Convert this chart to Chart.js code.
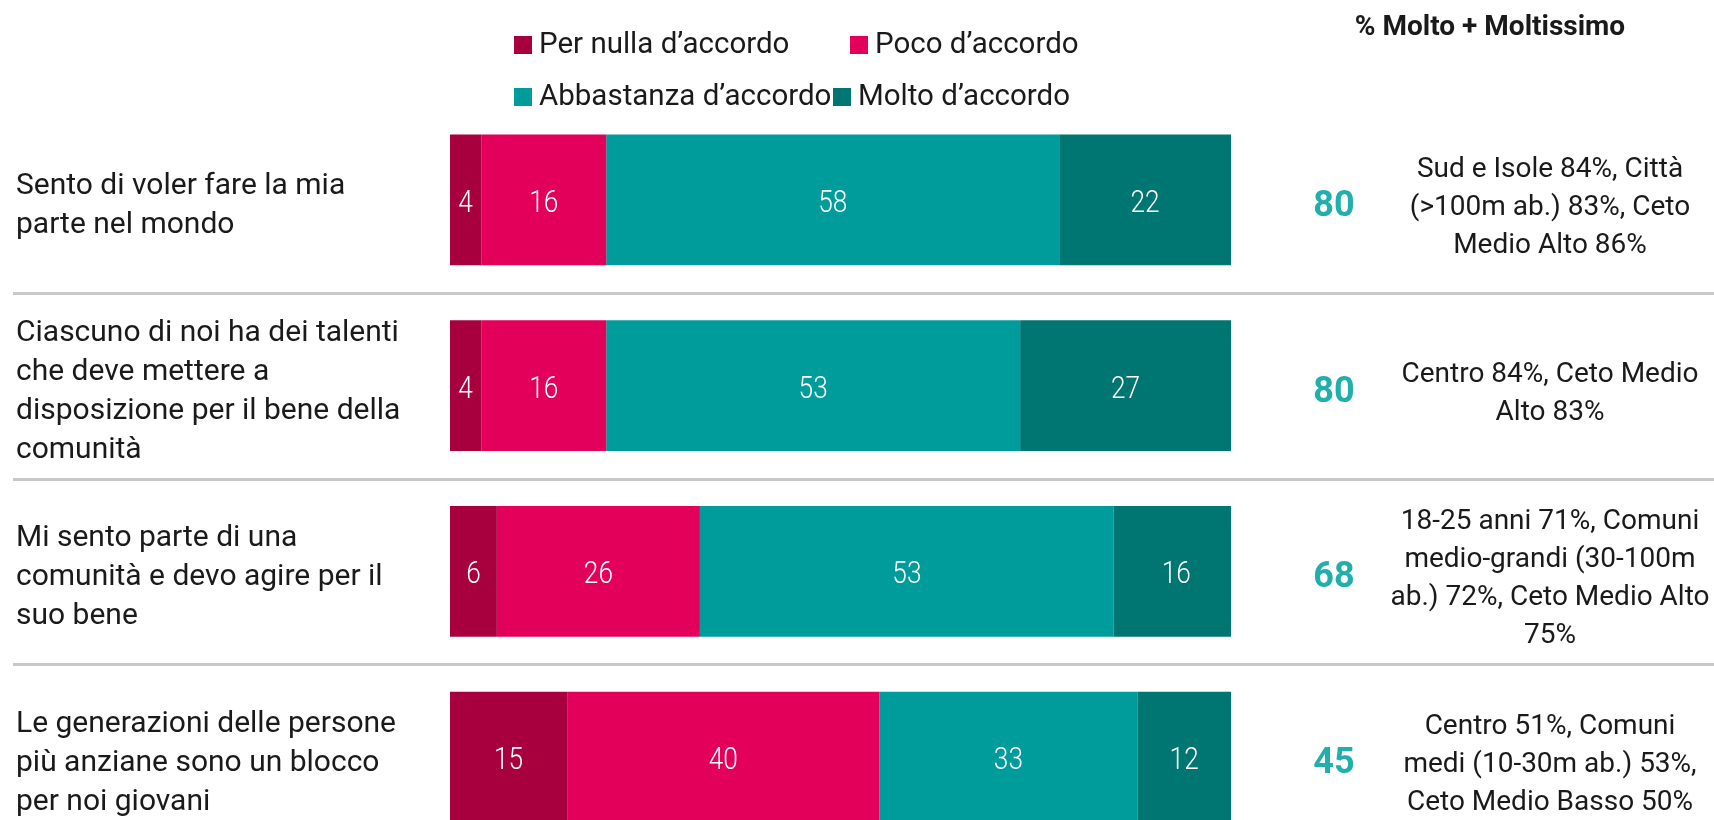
<!DOCTYPE html>
<html>
<head>
<meta charset="utf-8">
<script src="https://cdn.jsdelivr.net/npm/chart.js@4"></script>
<style>
html, body { margin: 0; padding: 0; background: #fff; overflow: hidden; }
canvas { display: block; }
</style>
</head>
<body>
<canvas id="accordoChart" width="1714" height="870"></canvas>
<script>
// Dati
const categorie = [
    ['Sento di voler fare la mia', 'parte nel mondo'],
    ['Ciascuno di noi ha dei talenti', 'che deve mettere a', 'disposizione per il bene della', 'comunità'],
    ['Mi sento parte di una', 'comunità e devo agire per il', 'suo bene'],
    ['Le generazioni delle persone', 'più anziane sono un blocco', 'per noi giovani']
];
const serie = ['Per nulla d’accordo', 'Poco d’accordo', 'Abbastanza d’accordo', 'Molto d’accordo'];
const perNulla = [4, 4, 6, 15];
const poco = [16, 16, 26, 40];
const abbastanza = [58, 53, 53, 33];
const molto = [22, 27, 16, 12];
const totali = [80, 80, 68, 45];
const titoloTotali = '% Molto + Moltissimo';
const note = [
    ['Sud e Isole 84%, Città', '(>100m ab.) 83%, Ceto', 'Medio Alto 86%'],
    ['Centro 84%, Ceto Medio', 'Alto 83%'],
    ['18-25 anni 71%, Comuni', 'medio-grandi (30-100m', 'ab.) 72%, Ceto Medio Alto', '75%'],
    ['Centro 51%, Comuni', 'medi (10-30m ab.) 53%,', 'Ceto Medio Basso 50%']
];
const colori = ['#a8003f', '#e3005a', '#009c9b', '#007672'];

const FONT = 'Roboto, "Noto Sans", sans-serif';
const TESTO = '#1a1a1a';

// legenda, intestazione, etichette, totali, note
const extras = {
    id: 'extras',
    beforeDatasetsDraw(chart) {
        const ctx = chart.ctx;
        const y = chart.scales.y;
        const passo = y.getPixelForValue(1) - y.getPixelForValue(0);
        ctx.save();
        ctx.strokeStyle = '#c8c8c8';
        ctx.lineWidth = 3;
        for (let i = 0; i < categorie.length - 1; i++) {
            const yy = Math.round(y.getPixelForValue(i) + passo / 2) + 0.5;
            ctx.beginPath();
            ctx.moveTo(13, yy);
            ctx.lineTo(chart.width, yy);
            ctx.stroke();
        }
        ctx.restore();
    },
    afterDraw(chart) {
        const ctx = chart.ctx;
        const y = chart.scales.y;
        ctx.save();

        // valori dentro le barre (carattere stretto)
        ctx.fillStyle = '#fff';
        ctx.font = '300 32px ' + FONT;
        ctx.textAlign = 'center';
        ctx.textBaseline = 'middle';
        chart.data.datasets.forEach((ds, di) => {
            chart.getDatasetMeta(di).data.forEach((bar, i) => {
                const c = bar.getCenterPoint();
                ctx.save();
                ctx.translate(c.x, c.y + 4);
                ctx.scale(0.82, 1);
                ctx.fillText(ds.data[i], 0, 0);
                ctx.restore();
            });
        });

        // legenda 2x2
        const posLegenda = [[514, 45], [850, 45], [514, 97], [833, 97]];
        ctx.font = '29.5px ' + FONT;
        ctx.textAlign = 'left';
        serie.forEach((s, i) => {
            const [lx, ly] = posLegenda[i];
            ctx.fillStyle = colori[i];
            ctx.fillRect(lx, ly - 9, 18, 18);
            ctx.fillStyle = TESTO;
            ctx.fillText(s, lx + 25, ly + 1);
        });

        // intestazione colonna
        ctx.font = 'bold 28px ' + FONT;
        ctx.textAlign = 'center';
        ctx.fillText(titoloTotali, 1490, 28);

        // totali e note
        totali.forEach((t, i) => {
            const yc = y.getPixelForValue(i);
            ctx.fillStyle = '#21afac';
            ctx.font = 'bold 36px ' + FONT;
            ctx.fillText(t, 1334, yc + 7);
            ctx.fillStyle = TESTO;
            ctx.font = '28px ' + FONT;
            const righe = note[i];
            const lh = 38;
            righe.forEach((r, k) => {
                ctx.fillText(r, 1550, yc + 8 + (k - (righe.length - 1) / 2) * lh);
            });
        });
        ctx.restore();
    }
};

const ctxAccordo = document.getElementById('accordoChart').getContext('2d');
const accordoChart = new Chart(ctxAccordo, {
    type: 'bar',
    data: {
        labels: categorie,
        datasets: [perNulla, poco, abbastanza, molto].map((vals, i) => ({
            label: serie[i],
            data: vals,
            backgroundColor: colori[i],
            borderWidth: 0,
            barPercentage: 0.705,
            categoryPercentage: 1
        }))
    },
    options: {
        indexAxis: 'y',
        responsive: false,
        animation: false,
        layout: { padding: { left: 16, right: 483, top: 107, bottom: 20 } },
        plugins: {
            legend: { display: false },
            tooltip: { enabled: false }
        },
        scales: {
            x: {
                stacked: true,
                min: 0,
                max: 100,
                display: false
            },
            y: {
                stacked: true,
                grid: { display: false },
                border: { display: false },
                ticks: {
                    crossAlign: 'far',
                    color: TESTO,
                    padding: 0,
                    labelOffset: 6,
                    font: { family: FONT, size: 30, lineHeight: 1.3 }
                },
                afterFit(scale) {
                    scale.width = 434;
                    scale.paddingTop = 0;
                    scale.paddingBottom = 0;
                }
            }
        }
    },
    plugins: [extras]
});
</script>
</body>
</html>
